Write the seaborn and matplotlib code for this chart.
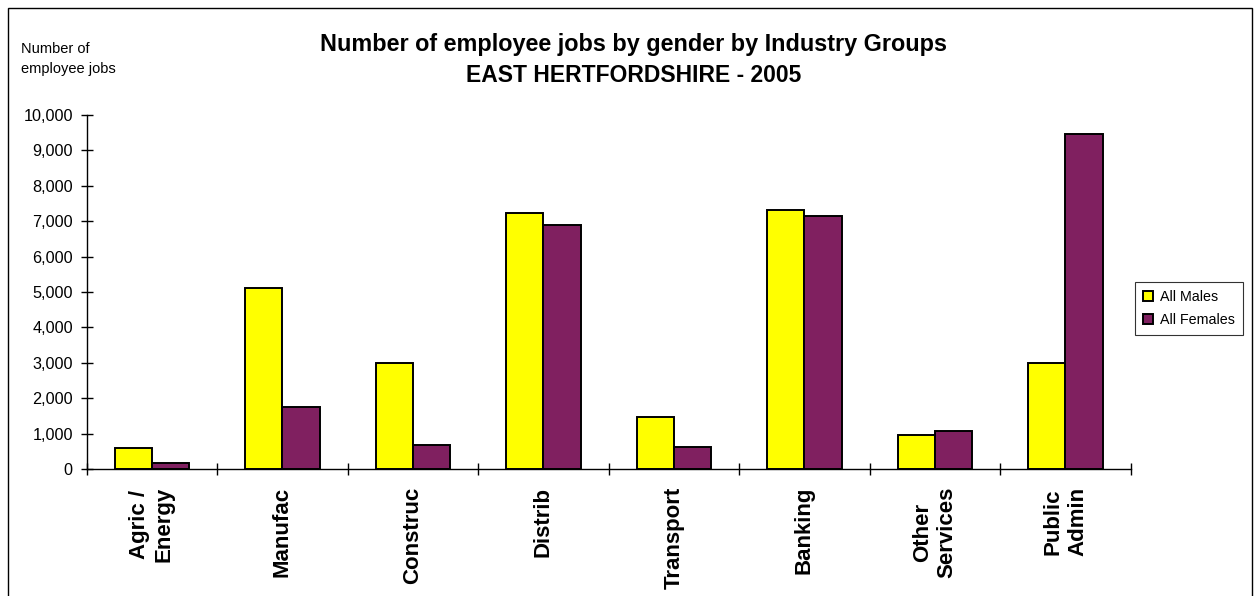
import numpy as np
import pandas as pd
import seaborn as sns
import matplotlib.pyplot as plt
from matplotlib.patches import Rectangle

# Data
industries = ["Agric /\nEnergy", "Manufac", "Construc", "Distrib",
              "Transport", "Banking", "Other\nServices", "Public\nAdmin"]
males = [600, 5100, 3000, 7220, 1470, 7330, 960, 2990]
females = [170, 1750, 680, 6880, 620, 7160, 1070, 9450]
series = ["All Males", "All Females"]
y_ticks = [0, 1000, 2000, 3000, 4000, 5000, 6000, 7000, 8000, 9000, 10000]

df = pd.DataFrame({
    "Industry": industries * 2,
    "Jobs": males + females,
    "Gender": [series[0]] * len(industries) + [series[1]] * len(industries),
})

sns.set_style("white")
plt.rcParams["font.family"] = ["Liberation Sans", "DejaVu Sans"]
plt.rcParams["text.color"] = "black"
plt.rcParams["xtick.color"] = "black"
plt.rcParams["ytick.color"] = "black"

fig = plt.figure(figsize=(12.6, 5.96), dpi=100)
ax = fig.add_axes([0.0688, 0.2131, 0.8286, 0.5939])

sns.barplot(
    data=df, x="Industry", y="Jobs", hue="Gender",
    order=industries, hue_order=series,
    palette=["#FFFF00", "#802060"],
    edgecolor="black", linewidth=1.4, width=0.57, gap=0,
    saturation=1, ax=ax,
)

ax.set_ylim(0, 10000)
ax.set_xlim(-0.5, 7.5)
ax.set_yticks(y_ticks)
ax.set_yticklabels([f"{v:,}" for v in y_ticks], fontsize=11.7)
ax.tick_params(axis="y", left=True, length=8, direction="inout", width=1, pad=6)

# category labels between boundary ticks
ax.set_xticks(np.arange(len(industries)))
ax.set_xticklabels(industries, rotation=90, fontsize=16, fontweight="bold",
                   va="top", ha="center", multialignment="center")
ax.tick_params(axis="x", which="major", bottom=True, length=0, pad=13)
ax.set_xticks(np.arange(-0.5, len(industries)), minor=True)
ax.tick_params(axis="x", which="minor", bottom=True, length=9,
               direction="inout", width=1)

ax.set_xlabel("")
ax.set_ylabel("")
for side in ["top", "right"]:
    ax.spines[side].set_visible(False)
for side in ["left", "bottom"]:
    ax.spines[side].set_color("black")
    ax.spines[side].set_linewidth(1)

handles, labels = ax.get_legend_handles_labels()
ax.legend_.remove()
leg = fig.legend(handles, labels, loc="upper left",
                 bbox_to_anchor=(0.9008, 0.527), borderaxespad=0,
                 fontsize=10.3, frameon=True, fancybox=False,
                 handlelength=0.7, handleheight=0.7, handletextpad=0.5,
                 borderpad=0.55, labelspacing=0.65)
leg.get_frame().set_edgecolor("black")
leg.get_frame().set_linewidth(0.8)

fig.text(0.503, 0.926, "Number of employee jobs by gender by Industry Groups",
         ha="center", va="center", fontsize=16.8, fontweight="bold")
fig.text(0.503, 0.874, "EAST HERTFORDSHIRE - 2005",
         ha="center", va="center", fontsize=16.5, fontweight="bold")
fig.text(0.017, 0.901, "Number of\nemployee jobs", ha="left", va="center",
         fontsize=10.5, linespacing=1.6)

# outer chart border
fig.patches.append(Rectangle((8 / 1260, -0.05), 1244 / 1260, 1.05 - 8 / 596,
                             transform=fig.transFigure, fill=False,
                             edgecolor="black", linewidth=1, clip_on=False))

fig.savefig("out.png", dpi=100)
